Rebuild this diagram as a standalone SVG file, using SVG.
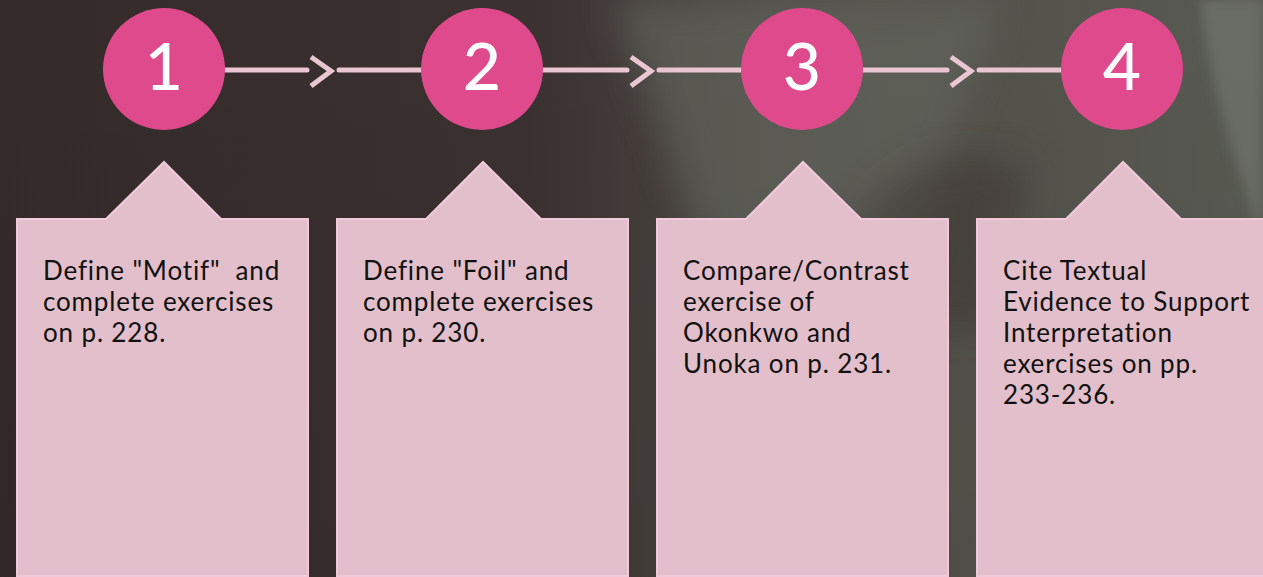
<svg xmlns="http://www.w3.org/2000/svg" width="1263" height="577" viewBox="0 0 1263 577">
  <defs>
    <linearGradient id="bg" x1="0" y1="0" x2="1" y2="0">
      <stop offset="0" stop-color="#342a2a"/>
      <stop offset="0.42" stop-color="#3a3130"/>
      <stop offset="0.62" stop-color="#4f4c46"/>
      <stop offset="1" stop-color="#585a52"/>
    </linearGradient>
    <linearGradient id="vshade" x1="0" y1="0" x2="0" y2="1">
      <stop offset="0" stop-color="#000" stop-opacity="0"/>
      <stop offset="1" stop-color="#000" stop-opacity="0.05"/>
    </linearGradient>
    <filter id="blur" x="-20%" y="-20%" width="140%" height="140%">
      <feGaussianBlur stdDeviation="18"/>
    </filter>
    <filter id="blur2" x="-20%" y="-20%" width="140%" height="140%">
      <feGaussianBlur stdDeviation="6"/>
    </filter>
  </defs>
  <style>
    .box { fill: #e2bfca; stroke: #f0cadb; stroke-width: 2; }
    .num { fill: #de4a8c; }
    .numtxt { font-family: Lato, "Liberation Sans", sans-serif; font-size: 66px; font-weight: 500; fill: #ffffff; text-anchor: middle; }
    .label { font-family: Lato, "Liberation Sans", sans-serif; font-size: 26px; letter-spacing: 0.85px; fill: #111111; white-space: pre; font-variant-ligatures: none; }
    .line { stroke: #e9c6d2; stroke-width: 5; fill: none; stroke-linecap: round; }
    .chev { stroke: #e9c6d2; stroke-width: 5; fill: none; stroke-linejoin: miter; }
  </style>

  <!-- background -->
  <rect x="0" y="0" width="1263" height="577" fill="url(#bg)"/>
  <path d="M610,0 C650,80 670,180 730,300 L900,300 L1000,0 Z" fill="#656860" opacity="0.6" filter="url(#blur)"/>
  <path d="M860,220 C900,160 960,140 1030,170 L1000,330 L860,330 Z" fill="#3e3633" opacity="0.5" filter="url(#blur)"/>
  <path d="M1200,0 C1210,90 1240,180 1263,240 L1263,0 Z" fill="#6c7067" opacity="0.9" filter="url(#blur2)"/>
  <path d="M1230,350 C1245,420 1255,500 1263,577 L1263,330 Z" fill="#626458" opacity="0.7" filter="url(#blur2)"/>
  <rect x="0" y="0" width="1263" height="577" fill="url(#vshade)"/>

  <!-- connectors -->
  <g id="connectors">
    <line class="line" x1="225" y1="70" x2="307" y2="70"/>
    <polyline class="chev" points="311,57 331,71 311,86"/>
    <line class="line" x1="339" y1="70" x2="421" y2="70"/>

    <line class="line" x1="543" y1="70" x2="627" y2="70"/>
    <polyline class="chev" points="631,57 651,71 631,86"/>
    <line class="line" x1="659" y1="70" x2="741" y2="70"/>

    <line class="line" x1="863" y1="70" x2="947" y2="70"/>
    <polyline class="chev" points="951,57 971,71 951,86"/>
    <line class="line" x1="979" y1="70" x2="1061" y2="70"/>
  </g>

  <!-- step 1 -->
  <g id="step1">
    <circle class="num" cx="164" cy="69" r="61"/>
    <text class="numtxt" x="164" y="90">1</text>
  </g>
  <g id="box1">
    <path class="box" d="M17,219 L106,219 L164,162 L221,219 L308,219 L308,576 L17,576 Z"/>
    <text class="label" x="43" y="280" xml:space="preserve">Define "Motif"  and</text>
    <text class="label" x="43" y="311">complete exercises</text>
    <text class="label" x="43" y="342">on p. 228.</text>
  </g>

  <!-- step 2 -->
  <g id="step2">
    <circle class="num" cx="482" cy="69" r="61"/>
    <text class="numtxt" x="482" y="90">2</text>
  </g>
  <g id="box2">
    <path class="box" d="M337,219 L426,219 L483,162 L541,219 L628,219 L628,576 L337,576 Z"/>
    <text class="label" x="363" y="280">Define "Foil" and</text>
    <text class="label" x="363" y="311">complete exercises</text>
    <text class="label" x="363" y="342">on p. 230.</text>
  </g>

  <!-- step 3 -->
  <g id="step3">
    <circle class="num" cx="802" cy="69" r="61"/>
    <text class="numtxt" x="802" y="90">3</text>
  </g>
  <g id="box3">
    <path class="box" d="M657,219 L746,219 L803,162 L861,219 L948,219 L948,576 L657,576 Z"/>
    <text class="label" x="683" y="280">Compare/Contrast</text>
    <text class="label" x="683" y="311">exercise of</text>
    <text class="label" x="683" y="342">Okonkwo and</text>
    <text class="label" x="683" y="373">Unoka on p. 231.</text>
  </g>

  <!-- step 4 -->
  <g id="step4">
    <circle class="num" cx="1122" cy="69" r="61"/>
    <text class="numtxt" x="1122" y="90">4</text>
  </g>
  <g id="box4">
    <path class="box" d="M977,219 L1066,219 L1123,162 L1181,219 L1270,219 L1270,576 L977,576 Z"/>
    <text class="label" x="1003" y="280">Cite Textual</text>
    <text class="label" x="1003" y="311">Evidence to Support</text>
    <text class="label" x="1003" y="342">Interpretation</text>
    <text class="label" x="1003" y="373">exercises on pp.</text>
    <text class="label" x="1003" y="404">233-236.</text>
  </g>
</svg>
